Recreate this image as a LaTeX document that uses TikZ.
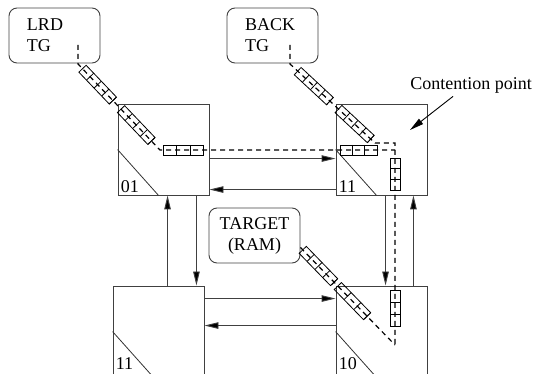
\documentclass[tikz,border=0pt]{standalone}
\usepackage{fontspec}
\setmainfont{Liberation Serif}
\usetikzlibrary{arrows.meta,calc}

\tikzset{
  pics/buffer/.style 2 args={code={
    \draw[solid, black, line width=0.8pt] (-#1/2,-5) rectangle (#1/2,5);
    \foreach \i in {1,...,#2}
      \draw[solid, black, line width=0.8pt] ({-#1/2+\i*#1/#2},-5) -- ++(0,10);
  }}
}

\begin{document}
\begin{tikzpicture}[x=1pt, y=-1pt,
  every node/.style={font=\fontsize{18}{21}\selectfont},
  switch/.style={draw=black!75, line width=0.9pt, minimum width=91pt, minimum height=91pt, inner sep=0pt},
  agent/.style={draw=black!75, line width=0.9pt, rounded corners=8pt, minimum width=91pt, minimum height=55pt, inner sep=0pt},
  link/.style={draw=black!75, line width=0.9pt, -{Triangle[length=14pt,width=6.5pt,fill=black]}},
  flow/.style={draw=black, line width=1.2pt, dash pattern=on 5pt off 4pt},
  swlabel/.style={anchor=south west, inner sep=3pt}]

  \useasboundingbox (0,0) rectangle (536,374);
  \clip (0,0) rectangle (536,374);

  % Agents
  \node[agent, text width=55pt, align=left] (lrd) at (54.5,35.5) {LRD\\TG};
  \node[agent, text width=55pt, align=left] (back) at (272.5,35.5) {BACK\\TG};
  \node[agent, align=center] (tgt) at (254.5,235.5) {TARGET\\(RAM)};

  % Switches
  \node[switch] (sA) at (163.5,149.5) {};
  \node[switch] (sB) at (381.5,149.5) {};
  \node[switch] (sC) at (158.5,331.5) {};
  \node[switch] (sD) at (381.5,331.5) {};
  \foreach \s in {sA, sB, sC, sD}
    \draw[black!80, line width=0.8pt] ([yshift=-46pt]\s.north west) -- ([xshift=41pt]\s.south west);
  \node[swlabel] (lA) at (sA.south west) {01};
  \node[swlabel] (lB) at (sB.south west) {11};
  \node[swlabel] (lC) at ([yshift=5pt]sC.south west) {11};
  \node[swlabel] (lD) at ([yshift=5pt]sD.south west) {10};

  % Liens entre switches
  \draw[link] ([yshift=-55pt]sA.north east) -- ([yshift=-55pt]sB.north west);
  \draw[link] ([yshift=-86pt]sB.north west) -- ([yshift=-86pt]sA.north east);
  \draw[link] ([yshift=-13pt]sC.north east) -- ([yshift=-13pt]sD.north west);
  \draw[link] ([yshift=-40pt]sD.north west) -- ([yshift=-40pt]sC.north east);
  \draw[link] ([xshift=-13pt]sA.south east) -- ([xshift=-13pt]sA.south east |- sC.north);
  \draw[link] ([xshift=55pt]sC.north west) -- ([xshift=55pt]sC.north west |- sA.south);
  \draw[link] ([xshift=50pt]sB.south west) -- ([xshift=50pt]sB.south west |- sD.north);
  \draw[link] ([xshift=-14pt]sD.north east) -- ([xshift=-14pt]sD.north east |- sB.south);

  % Contention point
  \node (cp) at (471,85) {Contention point};
  \coordinate (cpt) at (410,130);
  \draw[link, draw=black] ([xshift=-18pt]cp.south) -- (cpt);

  % Flux LRD
  \coordinate (l0) at (78,45);
  \coordinate (l1) at (78,64);
  \coordinate (l2) at (160,150);
  \coordinate (l3) at (395,150);
  \draw[flow] (l0) -- (l1) -- (l2)
      pic[pos=0.24, sloped] {buffer={44}{4}}
      pic[pos=0.71, sloped] {buffer={44}{4}}
    -- (l3)
      pic[pos=0.10, sloped] {buffer={40}{3}}
      pic[pos=0.845, sloped] {buffer={37}{3}};

  % Flux BACK
  \coordinate (b0) at (290,45);
  \coordinate (b1) at (290,64);
  \coordinate (b2) at (375,143);
  \coordinate (b3) at (395,143);
  \coordinate (b4) at (395,345);
  \draw[flow] (b0) -- (b1) -- (b2)
      pic[pos=0.28, sloped] {buffer={44}{4}}
      pic[pos=0.76, sloped] {buffer={44}{4}}
    -- (b3) -- (b4)
      pic[pos=0.153, sloped] {buffer={32}{3}}
      pic[pos=0.817, sloped] {buffer={36}{3}};

  % Flux TARGET
  \draw[flow] ([yshift=-12pt]tgt.east) -- (b4)
      pic[pos=0.19, sloped] {buffer={45}{4}}
      pic[pos=0.55, sloped] {buffer={42}{3}};

\end{tikzpicture}
\end{document}
